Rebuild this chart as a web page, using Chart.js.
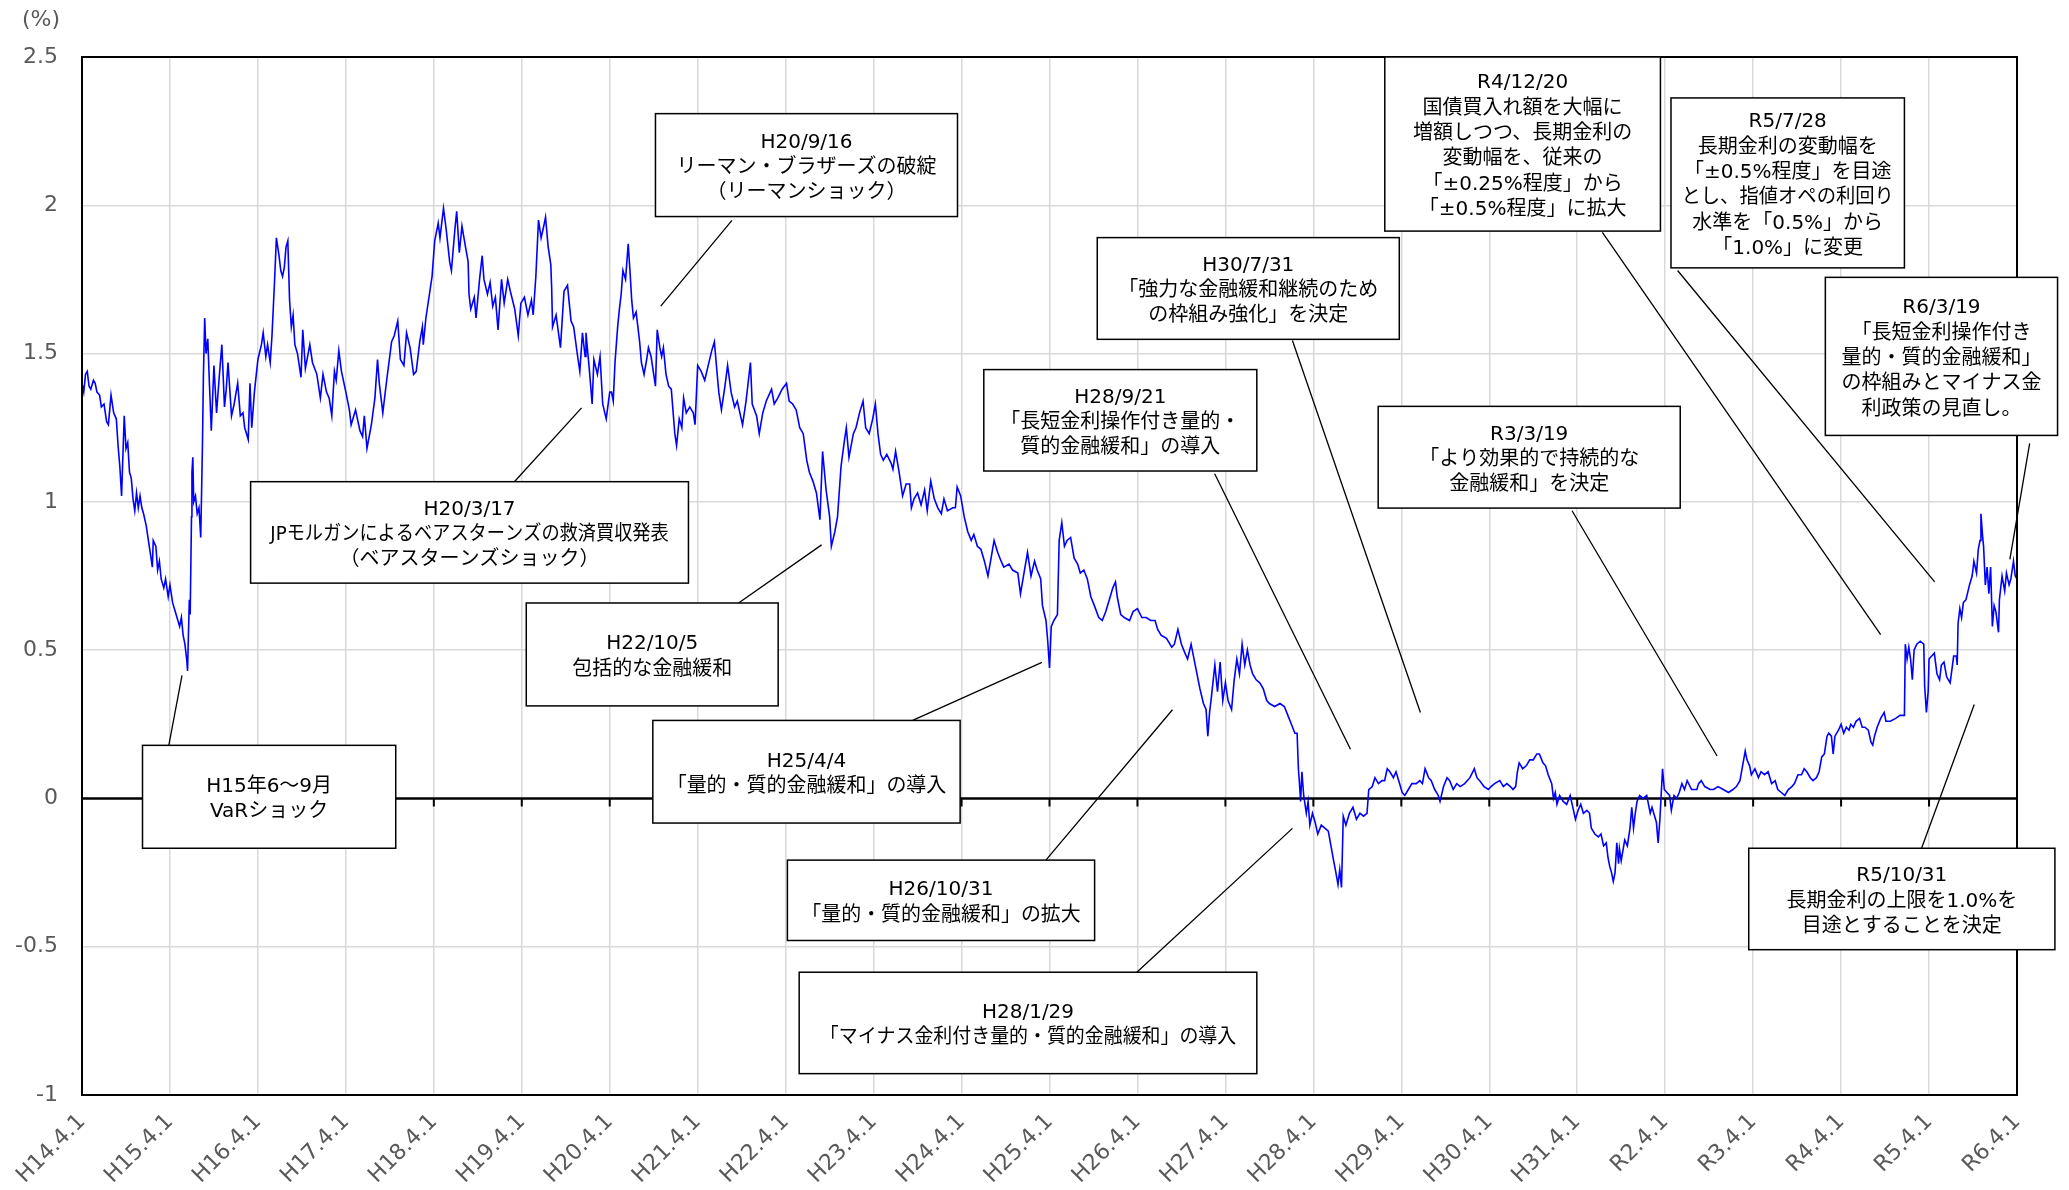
<!DOCTYPE html>
<html>
<head>
<meta charset="utf-8">
<script src="https://cdn.jsdelivr.net/npm/chart.js@4.4.1/dist/chart.umd.min.js"></script>
<style>html,body{margin:0;padding:0;background:#fff;}canvas{display:block;}</style>
</head>
<body>
<canvas id="c" width="2069" height="1190"></canvas>
<script>
// x axis tick labels (one per year, 0 = H14.4.1)
const tickLabels = ['H14.4.1','H15.4.1','H16.4.1','H17.4.1','H18.4.1','H19.4.1','H20.4.1','H21.4.1','H22.4.1','H23.4.1','H24.4.1','H25.4.1','H26.4.1','H27.4.1','H28.4.1','H29.4.1','H30.4.1','H31.4.1','R2.4.1','R3.4.1','R4.4.1','R5.4.1','R6.4.1'];

// 10-year JGB yield (%), as [years since H14.4.1, yield]
const fy2002to2005 = [[0.00,1.40],[0.02,1.37],[0.04,1.43],[0.06,1.44],[0.08,1.39],[0.10,1.38],[0.13,1.41],[0.15,1.40],[0.17,1.37],[0.20,1.36],[0.22,1.32],[0.25,1.33],[0.28,1.27],[0.30,1.26],[0.33,1.36],[0.36,1.30],[0.39,1.28],[0.41,1.19],[0.43,1.12],[0.45,1.02],[0.47,1.20],[0.48,1.29],[0.50,1.18],[0.52,1.20],[0.54,1.10],[0.56,1.08],[0.58,1.01],[0.60,0.97],[0.62,1.03],[0.64,0.98],[0.66,1.02],[0.68,0.98],[0.70,0.96],[0.73,0.92],[0.76,0.86],[0.78,0.82],[0.80,0.78],[0.81,0.87],[0.84,0.85],[0.86,0.77],[0.88,0.80],[0.90,0.74],[0.93,0.71],[0.95,0.74],[0.98,0.68],[1.00,0.72],[1.03,0.66],[1.06,0.63],[1.09,0.60],[1.11,0.58],[1.13,0.61],[1.15,0.55],[1.17,0.52],[1.19,0.47],[1.20,0.43],[1.21,0.55],[1.22,0.67],[1.23,0.62],[1.245,0.95],[1.25,1.10],[1.26,1.15],[1.27,1.00],[1.29,1.02],[1.31,0.96],[1.33,0.98],[1.35,0.88],[1.37,1.20],[1.38,1.42],[1.395,1.62],[1.41,1.50],[1.43,1.55],[1.45,1.39],[1.47,1.24],[1.50,1.46],[1.53,1.30],[1.56,1.42],[1.59,1.53],[1.62,1.32],[1.64,1.38],[1.66,1.47],[1.70,1.29],[1.73,1.33],[1.77,1.40],[1.80,1.29],[1.83,1.30],[1.85,1.25],[1.89,1.21],[1.91,1.40],[1.93,1.25],[1.96,1.37],[2.00,1.48],[2.04,1.53],[2.06,1.57],[2.09,1.49],[2.11,1.53],[2.14,1.47],[2.16,1.56],[2.19,1.75],[2.21,1.89],[2.24,1.83],[2.26,1.78],[2.28,1.76],[2.30,1.79],[2.32,1.86],[2.34,1.88],[2.36,1.68],[2.38,1.59],[2.40,1.63],[2.42,1.53],[2.45,1.50],[2.49,1.42],[2.51,1.58],[2.54,1.45],[2.59,1.53],[2.62,1.47],[2.67,1.43],[2.71,1.35],[2.74,1.43],[2.78,1.37],[2.81,1.35],[2.84,1.29],[2.87,1.44],[2.89,1.41],[2.92,1.51],[2.95,1.44],[3.00,1.37],[3.04,1.31],[3.06,1.26],[3.11,1.31],[3.16,1.24],[3.19,1.22],[3.21,1.29],[3.24,1.18],[3.29,1.26],[3.33,1.35],[3.36,1.48],[3.38,1.40],[3.42,1.30],[3.46,1.40],[3.52,1.54],[3.55,1.56],[3.59,1.61],[3.62,1.48],[3.66,1.46],[3.69,1.57],[3.73,1.52],[3.77,1.43],[3.80,1.44],[3.84,1.54],[3.87,1.59],[3.88,1.53],[3.91,1.62],[3.95,1.70],[3.98,1.76]];
const fy2006to2009 = [[4.01,1.88],[4.05,1.94],[4.07,1.89],[4.11,1.99],[4.14,1.92],[4.18,1.81],[4.20,1.78],[4.24,1.92],[4.26,1.98],[4.29,1.84],[4.32,1.93],[4.36,1.86],[4.39,1.81],[4.40,1.70],[4.42,1.65],[4.46,1.69],[4.48,1.62],[4.52,1.75],[4.55,1.83],[4.57,1.75],[4.61,1.70],[4.64,1.74],[4.67,1.66],[4.70,1.69],[4.73,1.58],[4.77,1.75],[4.80,1.67],[4.84,1.75],[4.87,1.71],[4.92,1.65],[4.96,1.56],[4.99,1.67],[5.03,1.69],[5.07,1.63],[5.11,1.68],[5.13,1.63],[5.16,1.76],[5.19,1.95],[5.22,1.89],[5.25,1.93],[5.27,1.96],[5.30,1.86],[5.33,1.80],[5.34,1.72],[5.35,1.59],[5.39,1.63],[5.44,1.52],[5.48,1.71],[5.52,1.73],[5.56,1.61],[5.59,1.59],[5.64,1.48],[5.66,1.44],[5.69,1.57],[5.72,1.49],[5.73,1.57],[5.77,1.44],[5.80,1.33],[5.82,1.48],[5.86,1.43],[5.89,1.49],[5.92,1.33],[5.96,1.28],[6.00,1.37],[6.02,1.37],[6.04,1.34],[6.06,1.47],[6.09,1.59],[6.11,1.65],[6.13,1.70],[6.15,1.78],[6.18,1.75],[6.21,1.87],[6.23,1.78],[6.25,1.68],[6.27,1.62],[6.30,1.64],[6.32,1.59],[6.34,1.54],[6.36,1.47],[6.39,1.43],[6.42,1.48],[6.44,1.52],[6.47,1.49],[6.49,1.45],[6.52,1.39],[6.54,1.58],[6.57,1.52],[6.59,1.49],[6.61,1.52],[6.64,1.43],[6.67,1.39],[6.70,1.38],[6.74,1.23],[6.76,1.19],[6.79,1.28],[6.82,1.25],[6.84,1.35],[6.87,1.30],[6.91,1.32],[6.95,1.30],[6.97,1.26],[7.00,1.46],[7.04,1.44],[7.08,1.41],[7.12,1.46],[7.16,1.51],[7.19,1.54],[7.21,1.47],[7.24,1.37],[7.27,1.31],[7.31,1.39],[7.34,1.46],[7.38,1.37],[7.42,1.32],[7.45,1.34],[7.51,1.26],[7.55,1.34],[7.60,1.47],[7.62,1.33],[7.67,1.29],[7.70,1.23],[7.74,1.30],[7.78,1.34],[7.84,1.38],[7.87,1.33],[7.91,1.35],[7.96,1.38]];
const fy2010to2013 = [[8.01,1.40],[8.04,1.34],[8.08,1.33],[8.12,1.31],[8.16,1.25],[8.20,1.23],[8.24,1.14],[8.27,1.10],[8.31,1.07],[8.35,1.03],[8.39,0.94],[8.42,1.17],[8.46,1.04],[8.50,0.95],[8.52,0.85],[8.56,0.90],[8.59,0.95],[8.63,1.12],[8.67,1.21],[8.69,1.25],[8.72,1.15],[8.77,1.23],[8.80,1.25],[8.84,1.30],[8.88,1.34],[8.91,1.25],[8.95,1.23],[8.99,1.28],[9.02,1.33],[9.05,1.23],[9.08,1.16],[9.11,1.14],[9.15,1.16],[9.20,1.13],[9.22,1.11],[9.25,1.17],[9.29,1.10],[9.33,1.02],[9.37,1.06],[9.41,1.06],[9.43,0.98],[9.46,1.01],[9.50,1.03],[9.54,0.99],[9.58,1.04],[9.61,0.97],[9.65,1.07],[9.69,1.01],[9.73,0.98],[9.77,0.96],[9.80,1.01],[9.84,0.97],[9.90,0.98],[9.93,0.98],[9.95,1.05],[9.99,1.02],[10.03,0.95],[10.07,0.90],[10.11,0.87],[10.14,0.89],[10.18,0.85],[10.22,0.84],[10.26,0.80],[10.30,0.75],[10.33,0.80],[10.37,0.87],[10.41,0.83],[10.45,0.80],[10.48,0.78],[10.54,0.79],[10.58,0.77],[10.64,0.76],[10.67,0.69],[10.71,0.76],[10.75,0.83],[10.79,0.75],[10.83,0.80],[10.86,0.77],[10.90,0.74],[10.92,0.65],[10.96,0.60],[10.98,0.53],[11.00,0.44],[11.02,0.58],[11.05,0.60],[11.09,0.62],[11.11,0.87],[11.14,0.93],[11.17,0.85],[11.20,0.87],[11.24,0.88],[11.28,0.81],[11.32,0.79],[11.35,0.76],[11.39,0.77],[11.43,0.74],[11.47,0.68],[11.51,0.65],[11.56,0.61],[11.60,0.60],[11.64,0.63],[11.68,0.67],[11.72,0.71],[11.75,0.73],[11.77,0.68],[11.81,0.62],[11.85,0.61],[11.91,0.60],[11.95,0.63]];
const fy2014to2017 = [[12.00,0.64],[12.05,0.61],[12.10,0.61],[12.15,0.60],[12.20,0.60],[12.23,0.57],[12.27,0.55],[12.33,0.54],[12.39,0.51],[12.42,0.52],[12.46,0.57],[12.50,0.52],[12.54,0.49],[12.57,0.47],[12.61,0.52],[12.63,0.49],[12.67,0.43],[12.71,0.37],[12.75,0.32],[12.78,0.30],[12.80,0.21],[12.82,0.29],[12.84,0.34],[12.88,0.45],[12.91,0.36],[12.94,0.46],[12.97,0.33],[13.00,0.39],[13.03,0.33],[13.07,0.30],[13.10,0.40],[13.13,0.47],[13.16,0.42],[13.19,0.52],[13.22,0.45],[13.25,0.50],[13.28,0.45],[13.31,0.42],[13.35,0.40],[13.39,0.39],[13.43,0.37],[13.47,0.33],[13.50,0.32],[13.56,0.31],[13.62,0.32],[13.67,0.31],[13.71,0.28],[13.75,0.25],[13.79,0.22],[13.815,0.22],[13.83,0.10],[13.84,0.06],[13.855,-0.01],[13.87,0.09],[13.89,0.01],[13.92,-0.05],[13.94,-0.01],[13.96,-0.09],[13.99,-0.05],[14.02,-0.08],[14.05,-0.12],[14.09,-0.09],[14.13,-0.10],[14.17,-0.11],[14.20,-0.16],[14.23,-0.21],[14.25,-0.24],[14.28,-0.29],[14.30,-0.24],[14.32,-0.30],[14.34,-0.06],[14.37,-0.09],[14.41,-0.05],[14.45,-0.03],[14.49,-0.07],[14.53,-0.05],[14.57,-0.06],[14.61,-0.05],[14.63,0.03],[14.67,0.04],[14.70,0.07],[14.74,0.05],[14.78,0.06],[14.81,0.06],[14.84,0.10],[14.87,0.09],[14.91,0.07],[14.94,0.09],[14.98,0.05],[15.01,0.02],[15.04,0.01],[15.08,0.03],[15.12,0.05],[15.17,0.05],[15.21,0.06],[15.24,0.05],[15.27,0.10],[15.31,0.07],[15.34,0.06],[15.38,0.03],[15.42,0.01],[15.44,-0.01],[15.48,0.04],[15.52,0.07],[15.55,0.06],[15.59,0.03],[15.63,0.05],[15.67,0.04],[15.72,0.05],[15.78,0.07],[15.83,0.10],[15.86,0.07],[15.89,0.06],[15.94,0.04],[15.99,0.03]];
const fy2018to2021 = [[16.02,0.04],[16.06,0.05],[16.12,0.06],[16.16,0.04],[16.20,0.05],[16.24,0.04],[16.27,0.03],[16.30,0.04],[16.32,0.09],[16.34,0.12],[16.38,0.10],[16.42,0.11],[16.46,0.13],[16.50,0.13],[16.54,0.15],[16.57,0.15],[16.61,0.12],[16.64,0.11],[16.67,0.08],[16.71,0.05],[16.73,0.00],[16.75,0.02],[16.77,-0.02],[16.80,0.01],[16.84,-0.01],[16.88,-0.02],[16.92,0.01],[16.95,-0.03],[16.98,-0.07],[17.01,-0.04],[17.04,-0.02],[17.07,-0.05],[17.11,-0.04],[17.14,-0.05],[17.16,-0.10],[17.20,-0.12],[17.24,-0.13],[17.27,-0.12],[17.30,-0.16],[17.33,-0.15],[17.35,-0.20],[17.37,-0.23],[17.39,-0.25],[17.41,-0.28],[17.43,-0.25],[17.45,-0.15],[17.47,-0.22],[17.48,-0.17],[17.50,-0.21],[17.54,-0.14],[17.57,-0.16],[17.60,-0.10],[17.62,-0.03],[17.64,-0.10],[17.66,-0.05],[17.68,-0.01],[17.71,0.01],[17.75,0.00],[17.79,0.01],[17.83,-0.05],[17.85,-0.03],[17.87,-0.05],[17.90,-0.08],[17.92,-0.15],[17.94,-0.07],[17.97,0.10],[17.99,0.03],[18.02,0.02],[18.05,0.01],[18.07,-0.04],[18.10,0.01],[18.13,0.00],[18.16,0.02],[18.19,0.05],[18.22,0.03],[18.25,0.06],[18.30,0.03],[18.36,0.03],[18.38,0.05],[18.41,0.06],[18.45,0.04],[18.51,0.03],[18.55,0.03],[18.60,0.04],[18.66,0.03],[18.72,0.02],[18.77,0.03],[18.81,0.04],[18.85,0.06],[18.88,0.11],[18.91,0.16],[18.93,0.13],[18.96,0.11],[18.98,0.08],[19.02,0.10],[19.06,0.07],[19.09,0.09],[19.13,0.08],[19.17,0.09],[19.21,0.05],[19.25,0.06],[19.28,0.03],[19.32,0.02],[19.36,0.01],[19.40,0.03],[19.44,0.04],[19.47,0.05],[19.51,0.08],[19.55,0.08],[19.58,0.10],[19.61,0.09],[19.65,0.07],[19.68,0.06],[19.72,0.07],[19.75,0.09],[19.78,0.14],[19.81,0.15],[19.84,0.21],[19.86,0.22],[19.89,0.21],[19.91,0.15],[19.93,0.21],[19.97,0.23]];
const fy2022to2023 = [[20.00,0.25],[20.03,0.22],[20.06,0.24],[20.09,0.23],[20.11,0.25],[20.14,0.24],[20.17,0.26],[20.21,0.27],[20.24,0.24],[20.27,0.24],[20.31,0.23],[20.34,0.19],[20.36,0.18],[20.38,0.21],[20.41,0.24],[20.45,0.27],[20.49,0.29],[20.51,0.26],[20.56,0.26],[20.62,0.27],[20.67,0.28],[20.72,0.28],[20.73,0.52],[20.75,0.47],[20.77,0.51],[20.79,0.47],[20.81,0.40],[20.83,0.50],[20.86,0.52],[20.90,0.53],[20.94,0.52],[20.95,0.38],[20.97,0.29],[20.99,0.36],[21.00,0.47],[21.03,0.48],[21.06,0.49],[21.09,0.42],[21.12,0.40],[21.14,0.45],[21.17,0.46],[21.20,0.41],[21.24,0.39],[21.28,0.48],[21.31,0.48],[21.32,0.45],[21.33,0.59],[21.35,0.64],[21.37,0.61],[21.39,0.66],[21.42,0.67],[21.46,0.72],[21.49,0.75],[21.51,0.80],[21.54,0.76],[21.56,0.84],[21.58,0.87],[21.59,0.96],[21.61,0.88],[21.62,0.85],[21.64,0.72],[21.66,0.78],[21.68,0.69],[21.70,0.78],[21.72,0.58],[21.74,0.65],[21.76,0.63],[21.79,0.56],[21.80,0.67],[21.83,0.75],[21.86,0.70],[21.88,0.76],[21.91,0.72],[21.93,0.74],[21.96,0.80],[21.98,0.75],[22.00,0.74]];

// Event call-outs: text lines, box [x from, x to, y top, y bottom] and leader [from, to] in data units
const callouts = [
  { lines: ['H15年6～9月', 'VaRショック'], box: [0.688, 3.567, 0.179, -0.168], leader: [[0.987, 0.179], [1.137, 0.415]] },
  { lines: ['H20/3/17', 'JPモルガンによるベアスターンズの救済買収発表', '（ベアスターンズショック）'], box: [1.917, 6.895, 1.068, 0.726], leader: [[4.916, 1.068], [5.680, 1.317]] },
  { lines: ['H20/9/16', 'リーマン・ブラザーズの破綻', '（リーマンショック）'], box: [6.520, 9.954, 2.309, 1.962], leader: [[7.390, 1.949], [6.580, 1.660]] },
  { lines: ['H22/10/5', '包括的な金融緩和'], box: [5.051, 7.915, 0.659, 0.312], leader: [[7.465, 0.659], [8.409, 0.855]] },
  { lines: ['H25/4/4', '「量的・質的金融緩和」の導入'], box: [6.490, 9.984, 0.263, -0.083], leader: [[9.444, 0.263], [10.914, 0.459]] },
  { lines: ['H26/10/31', '「量的・質的金融緩和」の拡大'], box: [8.020, 11.513, -0.208, -0.479], leader: [[10.959, -0.208], [12.398, 0.299]] },
  { lines: ['H28/1/29', '「マイナス金利付き量的・質的金融緩和」の導入'], box: [8.154, 13.357, -0.586, -0.928], leader: [[11.993, -0.586], [13.762, -0.101]] },
  { lines: ['H28/9/21', '「長短金利操作付き量的・', '質的金融緩和」の導入'], box: [10.253, 13.357, 1.446, 1.104], leader: [[12.878, 1.095], [14.422, 0.166]] },
  { lines: ['H30/7/31', '「強力な金融緩和継続のため', 'の枠組み強化」を決定'], box: [11.543, 14.977, 1.891, 1.548], leader: [[13.762, 1.544], [15.217, 0.290]] },
  { lines: ['R3/3/19', '「より効果的で持続的な', '金融緩和」を決定'], box: [14.737, 18.171, 1.322, 0.979], leader: [[16.941, 0.970], [18.590, 0.143]] },
  { lines: ['R4/12/20', '国債買入れ額を大幅に', '増額しつつ、長期金利の', '変動幅を、従来の', '「±0.25%程度」から', '「±0.5%程度」に拡大'], box: [14.812, 17.946, 2.5, 1.913], leader: [[17.286, 1.909], [20.450, 0.552]] },
  { lines: ['R5/7/28', '長期金利の変動幅を', '「±0.5%程度」を目途', 'とし、指値オペの利回り', '水準を「0.5%」から', '「1.0%」に変更'], box: [18.066, 20.720, 2.362, 1.789], leader: [[18.141, 1.780], [21.064, 0.730]] },
  { lines: ['R6/3/19', '「長短金利操作付き', '量的・質的金融緩和」', 'の枠組みとマイナス金', '利政策の見直し。'], box: [19.821, 22.461, 1.757, 1.224], leader: [[22.144, 1.197], [21.919, 0.806]] },
  { lines: ['R5/10/31', '長期金利の上限を1.0%を', '目途とすることを決定'], box: [18.950, 22.431, -0.168, -0.510], leader: [[20.915, -0.168], [21.514, 0.317]] }
];

const FONT_FAMILY = '"DejaVu Sans", "Noto Sans CJK JP", sans-serif';
const points = [].concat(fy2002to2005, fy2006to2009, fy2010to2013, fy2014to2017, fy2018to2021, fy2022to2023)
  .map(([x, y]) => ({ x, y }));

const framePlugin = {
  id: 'frame',
  beforeDatasetsDraw(chart) {
    const { ctx, chartArea: a, scales: { x, y } } = chart;
    const y0 = y.getPixelForValue(0);
    ctx.save();
    ctx.strokeStyle = '#000';
    ctx.lineWidth = 2.5;
    ctx.beginPath();
    ctx.moveTo(a.left, y0); ctx.lineTo(a.right, y0);
    ctx.stroke();
    ctx.lineWidth = 2;
    ctx.beginPath();
    tickLabels.forEach((_, i) => {
      const px = x.getPixelForValue(i);
      ctx.moveTo(px, y0); ctx.lineTo(px, y0 + 8);
    });
    ctx.stroke();
    ctx.restore();
  },
  afterDatasetsDraw(chart) {
    const { ctx, chartArea: a, scales: { x, y } } = chart;
    ctx.save();
    ctx.strokeStyle = '#000';
    ctx.lineWidth = 2;
    ctx.strokeRect(a.left, a.top, a.right - a.left, a.bottom - a.top);
    // leaders
    ctx.lineWidth = 1.3;
    ctx.beginPath();
    callouts.forEach(c => {
      ctx.moveTo(x.getPixelForValue(c.leader[0][0]), y.getPixelForValue(c.leader[0][1]));
      ctx.lineTo(x.getPixelForValue(c.leader[1][0]), y.getPixelForValue(c.leader[1][1]));
    });
    ctx.stroke();
    // boxes
    callouts.forEach(c => {
      const x1 = x.getPixelForValue(c.box[0]), x2 = x.getPixelForValue(c.box[1]);
      const y1 = y.getPixelForValue(c.box[2]), y2 = y.getPixelForValue(c.box[3]);
      ctx.fillStyle = '#fff';
      ctx.fillRect(x1, y1, x2 - x1, y2 - y1);
      ctx.lineWidth = 1.5;
      ctx.strokeStyle = '#000';
      ctx.strokeRect(x1, y1, x2 - x1, y2 - y1);
      ctx.fillStyle = '#000';
      ctx.font = '20px ' + FONT_FAMILY;
      ctx.textAlign = 'center';
      ctx.textBaseline = 'middle';
      const lh = 25.3;
      const cy = (y1 + y2) / 2 - (c.lines.length - 1) * lh / 2 + 2.5;
      const maxW = (x2 - x1) * 0.91;
      c.lines.forEach((t, i) => ctx.fillText(t, (x1 + x2) / 2, cy + i * lh, maxW));
    });
    // unit label
    ctx.fillStyle = '#595959';
    ctx.font = '22px ' + FONT_FAMILY;
    ctx.textAlign = 'center';
    ctx.textBaseline = 'middle';
    ctx.fillText('(%)', 41, 20);
    ctx.restore();
  }
};

new Chart(document.getElementById('c'), {
  type: 'line',
  data: {
    datasets: [{
      data: points,
      borderColor: '#0000ff',
      borderWidth: 1.6,
      pointRadius: 0,
      tension: 0,
      fill: false
    }]
  },
  options: {
    responsive: false,
    animation: false,
    devicePixelRatio: 1,
    layout: { padding: { left: 0, right: 52, top: 57, bottom: 0 } },
    plugins: { legend: { display: false }, tooltip: { enabled: false } },
    scales: {
      x: {
        type: 'linear', min: 0, max: 22,
        ticks: {
          stepSize: 1, autoSkip: false, minRotation: 45, maxRotation: 45, padding: 14,
          color: '#595959', font: { family: FONT_FAMILY, size: 22 },
          callback: v => tickLabels[v] ?? ''
        },
        grid: { color: '#d9d9d9', lineWidth: 1.5, drawTicks: false },
        border: { display: false },
        afterFit: s => { s.height = 95; }
      },
      y: {
        min: -1, max: 2.5,
        ticks: {
          stepSize: 0.5, padding: 24, color: '#595959', font: { family: FONT_FAMILY, size: 22 },
          callback: v => String(Math.round(v * 10) / 10)
        },
        grid: { color: c => (c.tick && c.tick.value === 0) ? 'rgba(0,0,0,0)' : '#d9d9d9', lineWidth: 1.5, drawTicks: false },
        border: { display: false },
        afterFit: s => { s.width = 82; }
      }
    }
  },
  plugins: [framePlugin]
});
</script>
</body>
</html>
